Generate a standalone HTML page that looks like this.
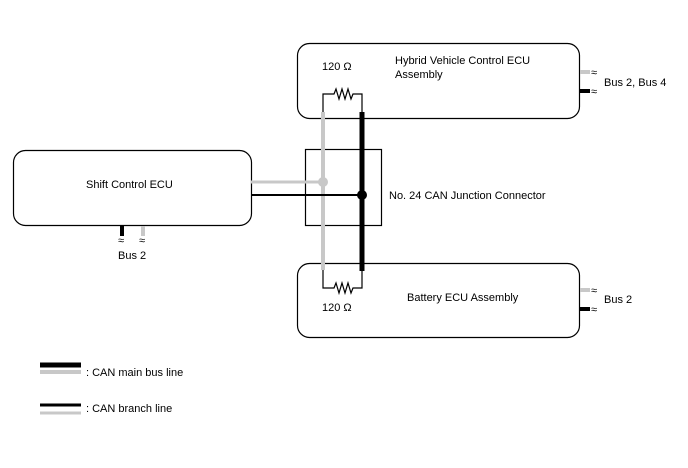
<!DOCTYPE html>
<html><head><style>
body{margin:0;background:#fff;}
svg text{font-family:"Liberation Sans",sans-serif;font-size:11px;fill:#000;}
</style></head><body>
<svg width="688" height="463" viewBox="0 0 688 463" xmlns="http://www.w3.org/2000/svg">
<rect width="688" height="463" fill="#fff"/>
<g fill="none" stroke="#000" stroke-width="1.2">
<rect x="297.5" y="43.5" width="282" height="75" rx="12"/>
<rect x="297.5" y="263.5" width="282" height="74" rx="12"/>
<rect x="13.5" y="150.5" width="238" height="75" rx="12"/>
<rect x="305.5" y="149.5" width="76" height="76"/>
<!-- resistors -->
<polyline points="323,112 323,94 334,94 336,89 339,99 342,89 345,99 348,89 351,99 353,94 362,94 362,112"/>
<polyline points="323,270 323,288 334,288 336,283 339,293 342,283 345,293 348,283 351,293 353,288 362,288 362,270"/>
</g>
<line x1="323" y1="112" x2="323" y2="270" stroke="#c8c8c8" stroke-width="4"/>
<line x1="251" y1="182" x2="323" y2="182" stroke="#c8c8c8" stroke-width="3"/>
<circle cx="323" cy="182" r="5" fill="#c8c8c8"/>
<line x1="362" y1="112" x2="362" y2="271" stroke="#000" stroke-width="5"/>
<line x1="251" y1="195" x2="362" y2="195" stroke="#000" stroke-width="2"/>
<circle cx="362" cy="195" r="5" fill="#000"/>
<!-- right stubs -->
<line x1="580" y1="72" x2="590" y2="72" stroke="#c8c8c8" stroke-width="4"/>
<line x1="580" y1="91" x2="590" y2="91" stroke="#000" stroke-width="4"/>
<line x1="580" y1="290" x2="590" y2="290" stroke="#c8c8c8" stroke-width="4"/>
<line x1="580" y1="309" x2="590" y2="309" stroke="#000" stroke-width="4"/>
<line x1="122" y1="226" x2="122" y2="236" stroke="#000" stroke-width="4"/>
<line x1="143" y1="226" x2="143" y2="236" stroke="#c8c8c8" stroke-width="4"/>
<g font-size="9">
<text x="591" y="76">≈</text><text x="591" y="95">≈</text>
<text x="591" y="294">≈</text><text x="591" y="313">≈</text>
</g>
<text x="118" y="244" font-size="9">≈</text><text x="139" y="244" font-size="9">≈</text>
<text x="322" y="70">120 Ω</text>
<text x="395" y="64">Hybrid Vehicle Control ECU</text>
<text x="395" y="78">Assembly</text>
<text x="604" y="86">Bus 2, Bus 4</text>
<text x="322" y="311">120 Ω</text>
<text x="407" y="301">Battery ECU Assembly</text>
<text x="604" y="303">Bus 2</text>
<text x="86" y="188">Shift Control ECU</text>
<text x="118" y="259">Bus 2</text>
<text x="389" y="199">No. 24 CAN Junction Connector</text>
<line x1="40" y1="365" x2="81" y2="365" stroke="#000" stroke-width="5"/>
<line x1="40" y1="372" x2="81" y2="372" stroke="#c8c8c8" stroke-width="4"/>
<text x="86" y="376">: CAN main bus line</text>
<line x1="40" y1="405" x2="81" y2="405" stroke="#000" stroke-width="3"/>
<line x1="40" y1="413" x2="81" y2="413" stroke="#c8c8c8" stroke-width="3"/>
<text x="86" y="412">: CAN branch line</text>
</svg>
</body></html>
